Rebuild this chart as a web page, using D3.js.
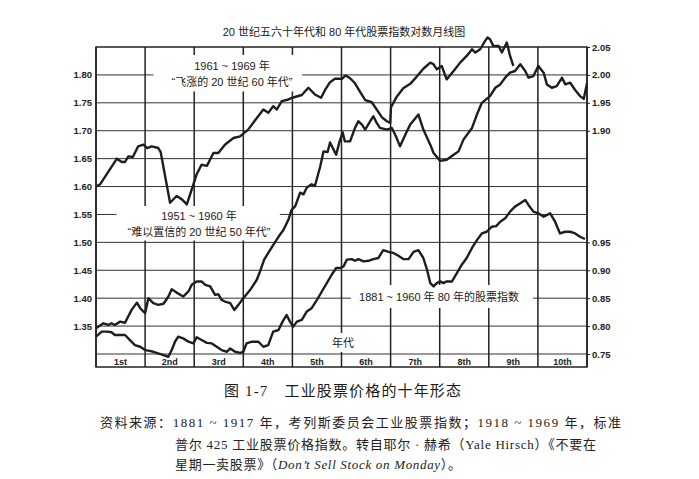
<!DOCTYPE html>
<html>
<head>
<meta charset="utf-8">
<script src="https://cdn.jsdelivr.net/npm/d3@7"></script>
<style>
  html, body { margin: 0; padding: 0; background: #fff; }
  svg { display: block; }
</style>
</head>
<body>
<svg width="699" height="479"></svg>
<script>
var decades = ['1st', '2nd', '3rd', '4th', '5th', '6th', '7th', '8th', '9th', '10th']
var leftTicks = [1.35, 1.40, 1.45, 1.50, 1.55, 1.60, 1.65, 1.70, 1.75, 1.80]
var rightLowTicks = [0.75, 0.80, 0.85, 0.90, 0.95]
var rightHighTicks = [1.90, 1.95, 2.00, 2.05]

// [month of decade, log index] -- 1961-69, read on the upper right scale
var sixties = [
  [0, 1.800], [1, 1.804], [5.1, 1.850], [6.3, 1.844], [7.1, 1.844], [7.9, 1.854],
  [9, 1.853], [10.3, 1.872], [11.6, 1.875], [12.5, 1.869], [13.6, 1.872], [15.2, 1.869],
  [15.8, 1.862], [18.1, 1.771], [19.7, 1.783], [21, 1.777], [22.2, 1.768], [24.6, 1.822],
  [25.8, 1.839], [27.1, 1.837], [28.7, 1.860], [29.9, 1.860], [31.5, 1.875], [33.6, 1.887],
  [35.2, 1.890], [37.2, 1.902], [38.8, 1.918], [40.9, 1.938], [42.1, 1.932], [43.3, 1.944],
  [44.2, 1.938], [45.4, 1.953], [47, 1.956], [48.4, 1.960], [50.3, 1.964], [51.9, 1.977],
  [53.5, 1.965], [55, 1.959], [56, 1.973], [57.2, 1.987], [58.4, 1.993], [60.1, 1.993],
  [61, 1.999], [62.1, 1.994], [63.3, 1.985], [64.5, 1.970], [65.8, 1.955], [67.4, 1.951],
  [68.6, 1.938], [69.9, 1.924], [71.1, 1.917], [71.9, 1.914], [72.1, 1.942], [73.5, 1.961],
  [75.1, 1.976], [76.8, 1.984], [78.4, 1.997], [80, 2.011], [81.7, 2.022], [82.5, 2.019],
  [83.3, 2.010], [84.5, 2.016], [85.7, 1.992], [87.4, 2.007], [89, 2.022], [90.6, 2.034],
  [91.9, 2.046], [92.7, 2.040], [93.9, 2.046], [95.1, 2.061], [95.7, 2.067], [96.3, 2.064],
  [97.1, 2.052], [98.4, 2.052], [99.2, 2.040], [100.4, 2.058], [101.2, 2.034], [102, 2.016]
]

// 1951-60, read on the left scale
var fifties = [
  [0, 1.346], [1.8, 1.355], [3, 1.352], [3.8, 1.355], [4.6, 1.352], [5.9, 1.358],
  [7.1, 1.356], [8.7, 1.379], [10, 1.392], [10.8, 1.382], [12, 1.373], [12.8, 1.400],
  [14, 1.391], [15.2, 1.388], [16.5, 1.390], [17.7, 1.403], [18.5, 1.416], [19.7, 1.410],
  [21.3, 1.403], [22.6, 1.412], [23.4, 1.424], [24.6, 1.430], [25.8, 1.430], [26.7, 1.424],
  [27.9, 1.421], [29.1, 1.406], [29.9, 1.407], [30.7, 1.397], [31.5, 1.394], [32.8, 1.391],
  [33.8, 1.379], [34.8, 1.388], [36, 1.400], [37.7, 1.415], [39.3, 1.433], [40.1, 1.448],
  [41.1, 1.469], [42.1, 1.481], [43.3, 1.495], [44.6, 1.510], [45.8, 1.522], [47, 1.540],
  [47.8, 1.558], [48.7, 1.565], [49.9, 1.589], [50.7, 1.586], [51.5, 1.598], [52.7, 1.604],
  [53.5, 1.601], [54.8, 1.636], [55.6, 1.663], [56.6, 1.662], [57.2, 1.679], [58, 1.667],
  [58.7, 1.657], [59.5, 1.680], [60.3, 1.697], [60.8, 1.681], [62.1, 1.681], [63.3, 1.705],
  [64.1, 1.717], [65, 1.711], [65.8, 1.702], [67, 1.717], [67.8, 1.726], [68.6, 1.714],
  [69.4, 1.705], [71.1, 1.702], [72.3, 1.705], [73.3, 1.690], [74.3, 1.672], [75.6, 1.693],
  [76.8, 1.711], [78.8, 1.729], [80, 1.702], [81.7, 1.675], [82.5, 1.660], [84.1, 1.646],
  [85.7, 1.648], [87.4, 1.657], [88.6, 1.663], [89.8, 1.684], [91.9, 1.705], [93.1, 1.729],
  [94.3, 1.750], [96.3, 1.762], [97.6, 1.777], [98.8, 1.783], [100, 1.795], [101.2, 1.804],
  [102.4, 1.807], [103.7, 1.819], [104.9, 1.807], [105.7, 1.795], [106.9, 1.798], [108.1, 1.816],
  [109.4, 1.804], [110.2, 1.783], [111.4, 1.777], [112.6, 1.780], [113.9, 1.795], [114.7, 1.783],
  [115.9, 1.786], [117.1, 1.773], [118.3, 1.762], [119.2, 1.757], [120, 1.785]
]

// 1881-1960 eighty-year composite, read on the lower right scale
var eighty = [
  [0, 0.781], [1.4, 0.790], [2.6, 0.790], [3.8, 0.789], [4.6, 0.784], [5.9, 0.784],
  [7.1, 0.784], [8.3, 0.775], [9.5, 0.766], [10.8, 0.763], [12, 0.757], [12.8, 0.756],
  [14, 0.754], [15.2, 0.751], [16.5, 0.748], [17.7, 0.745], [18.5, 0.757], [19.3, 0.772],
  [20.1, 0.781], [21.3, 0.778], [22.6, 0.772], [23.8, 0.769], [24.6, 0.780], [25.8, 0.775],
  [27.1, 0.770], [28.3, 0.769], [29.5, 0.763], [30.7, 0.757], [32, 0.754], [32.8, 0.760],
  [34, 0.754], [35.2, 0.752], [36, 0.754], [36.8, 0.769], [38.1, 0.772], [39.7, 0.772],
  [40.9, 0.763], [42.1, 0.766], [43.3, 0.790], [44.6, 0.793], [45.6, 0.808], [46.6, 0.820],
  [47.4, 0.808], [48.2, 0.799], [49.1, 0.808], [50.3, 0.811], [51.5, 0.826], [52.7, 0.832],
  [54, 0.847], [55.2, 0.862], [56.4, 0.877], [57.6, 0.892], [58.7, 0.904], [59.7, 0.904],
  [60.5, 0.907], [61.3, 0.919], [62.5, 0.920], [63.3, 0.917], [64.1, 0.920], [65.4, 0.916],
  [66.6, 0.917], [67.8, 0.920], [69, 0.922], [70.2, 0.936], [71.5, 0.933], [72.7, 0.931],
  [73.9, 0.926], [75.1, 0.920], [76.4, 0.920], [77.6, 0.933], [78.8, 0.936], [80, 0.922],
  [80.9, 0.901], [81.7, 0.877], [82.5, 0.871], [83.3, 0.877], [84.1, 0.880], [84.9, 0.877],
  [85.7, 0.880], [87, 0.880], [88.2, 0.895], [89.4, 0.910], [90.6, 0.922], [91.9, 0.940],
  [93.1, 0.954], [94.3, 0.966], [95.5, 0.969], [96.7, 0.978], [97.8, 0.979], [98.8, 0.987],
  [100, 0.993], [101.2, 1.005], [102.4, 1.014], [103.7, 1.020], [104.9, 1.026], [105.7, 1.017],
  [106.9, 1.005], [108.1, 1.002], [109.4, 0.996], [111, 1.002], [112.2, 0.987], [113.4, 0.966],
  [114.7, 0.969], [115.9, 0.969], [117.1, 0.966], [118.3, 0.960], [119.5, 0.956]
]

;(function (d3) {
  var svg = d3.select('svg')
  var sans = '"Liberation Sans", "Noto Sans CJK SC", sans-serif'
  var serif = '"Liberation Serif", "Noto Sans CJK SC", serif'

  var left = 96
  var right = 587
  var top = 47
  var base = 354
  var bottom = 367

  var x = d3.scaleLinear().domain([0, 120]).range([left, right])
  var y = d3.scaleLinear().domain([1.30, 1.85]).range([base, top])
  var yLow = d3.scaleLinear().domain([0.75, 1.30]).range([base, top])
  var yHigh = d3.scaleLinear().domain([1.50, 2.05]).range([base, top])

  // title
  svg.append('text')
    .attr('x', 344)
    .attr('y', 36)
    .attr('text-anchor', 'middle')
    .style('font-family', sans)
    .style('font-size', '11px')
    .style('fill', '#1a1a1a')
    .text('20 世纪五六十年代和 80 年代股票指数对数月线图')

  // horizontal grid
  svg.append('g')
    .selectAll('line')
    .data(leftTicks.concat([1.30]))
    .enter()
    .append('line')
    .attr('x1', left)
    .attr('x2', right)
    .attr('y1', function (d) { return y(d) })
    .attr('y2', function (d) { return y(d) })
    .style('stroke', '#333')
    .style('stroke-width', 1)

  // decade dividers
  svg.append('g')
    .selectAll('line')
    .data(d3.range(decades.length + 1))
    .enter()
    .append('line')
    .attr('x1', function (d) { return x(d * 12) })
    .attr('x2', function (d) { return x(d * 12) })
    .attr('y1', top)
    .attr('y2', bottom)
    .style('stroke', '#222')
    .style('stroke-width', 1.5)

  svg.append('rect')
    .attr('x', left)
    .attr('y', top)
    .attr('width', right - left)
    .attr('height', bottom - top)
    .style('fill', 'none')
    .style('stroke', '#222')
    .style('stroke-width', 1.5)

  svg.append('g')
    .selectAll('text')
    .data(decades)
    .enter()
    .append('text')
    .attr('x', function (d, i) { return x(i * 12 + 6) })
    .attr('y', 364.5)
    .attr('text-anchor', 'middle')
    .style('font-family', sans)
    .style('font-size', '9px')
    .style('font-weight', 'bold')
    .style('fill', '#222')
    .text(function (d) { return d })

  // axes
  var fmt = d3.format('.2f')
  function styleAxis (g) {
    g.select('.domain').remove()
    g.selectAll('line').style('stroke', '#222')
    g.selectAll('text')
      .style('font-family', sans)
      .style('font-size', '9.5px')
      .style('font-weight', 'bold')
      .style('fill', '#222')
  }

  svg.append('g')
    .attr('transform', 'translate(' + left + ',0)')
    .call(d3.axisLeft(y).tickValues(leftTicks).tickSize(0).tickPadding(4).tickFormat(fmt))
    .call(styleAxis)

  svg.append('g')
    .attr('transform', 'translate(' + right + ',0)')
    .call(d3.axisRight(yLow).tickValues(rightLowTicks).tickSize(3).tickPadding(2).tickFormat(fmt))
    .call(styleAxis)

  svg.append('g')
    .attr('transform', 'translate(' + right + ',0)')
    .call(d3.axisRight(yHigh).tickValues(rightHighTicks).tickSize(3).tickPadding(2).tickFormat(fmt))
    .call(styleAxis)

  // labels on white patches
  function note (lines, cx, cy, lh, padL, padR, padY) {
    var g = svg.append('g')
    var rect = g.append('rect').style('fill', '#fff')
    var tg = g.append('g')
    lines.forEach(function (t, i) {
      tg.append('text')
        .attr('x', cx)
        .attr('y', cy + i * lh)
        .attr('text-anchor', 'middle')
        .attr('dominant-baseline', 'central')
        .style('font-family', sans)
        .style('font-size', '11px')
        .style('fill', '#1a1a1a')
        .text(t)
    })
    var b = tg.node().getBBox()
    rect.attr('x', b.x - padL)
      .attr('y', b.y - padY)
      .attr('width', b.width + padL + padR)
      .attr('height', b.height + padY * 2)
  }

  note(['1961 ~ 1969 年', '\u201c飞涨的 20 世纪 60 年代\u201d'], 232, 66, 15.5, 18, 9, 4)
  note(['1951 ~ 1960 年', '\u201c难以置信的 20 世纪 50 年代\u201d'], 199, 216, 15.5, 11, 9, 3)
  note(['1881 ~ 1960 年 80 年的股票指数'], 439, 297, 0, 8, 14, 5)
  note(['年代'], 343, 343, 0, 3, 3, 3)

  // series
  var ln = function (scale) {
    return d3.line()
      .x(function (d) { return x(d[0]) })
      .y(function (d) { return scale(d[1]) })
  }

  var series = [
    {data: sixties, scale: yHigh},
    {data: fifties, scale: y},
    {data: eighty, scale: yLow}
  ]

  svg.append('g')
    .selectAll('path')
    .data(series)
    .enter()
    .append('path')
    .attr('d', function (s) { return ln(s.scale)(s.data) })
    .style('fill', 'none')
    .style('stroke', '#1e1e1e')
    .style('stroke-width', 2.4)
    .style('stroke-linejoin', 'round')

  // caption
  svg.append('text')
    .attr('x', 224)
    .attr('y', 396)
    .attr('textLength', 237)
    .attr('lengthAdjust', 'spacing')
    .style('font-family', serif)
    .style('font-size', '15px')
    .style('fill', '#1a1a1a')
    .text('图 1-7\u3000工业股票价格的十年形态')

  svg.append('text')
    .attr('x', 100)
    .attr('y', 427)
    .attr('textLength', 521)
    .attr('lengthAdjust', 'spacing')
    .style('font-family', serif)
    .style('font-size', '13px')
    .style('fill', '#222')
    .text('资料来源：1881 ~ 1917 年，考列斯委员会工业股票指数；1918 ~ 1969 年，标准')

  svg.append('text')
    .attr('x', 175)
    .attr('y', 449)
    .attr('textLength', 421)
    .attr('lengthAdjust', 'spacing')
    .style('font-family', serif)
    .style('font-size', '13px')
    .style('fill', '#222')
    .text('普尔 425 工业股票价格指数。转自耶尔 · 赫希（Yale Hirsch）《不要在')

  var last = svg.append('text')
    .attr('x', 175)
    .attr('y', 469)
    .attr('textLength', 286)
    .attr('lengthAdjust', 'spacing')
    .style('font-family', serif)
    .style('font-size', '13px')
    .style('fill', '#222')
  last.append('tspan').text('星期一卖股票》（')
  last.append('tspan').style('font-style', 'italic').text('Don\u2019t Sell Stock on Monday')
  last.append('tspan').text('）。')
})(window.d3)
</script>
</body>
</html>
